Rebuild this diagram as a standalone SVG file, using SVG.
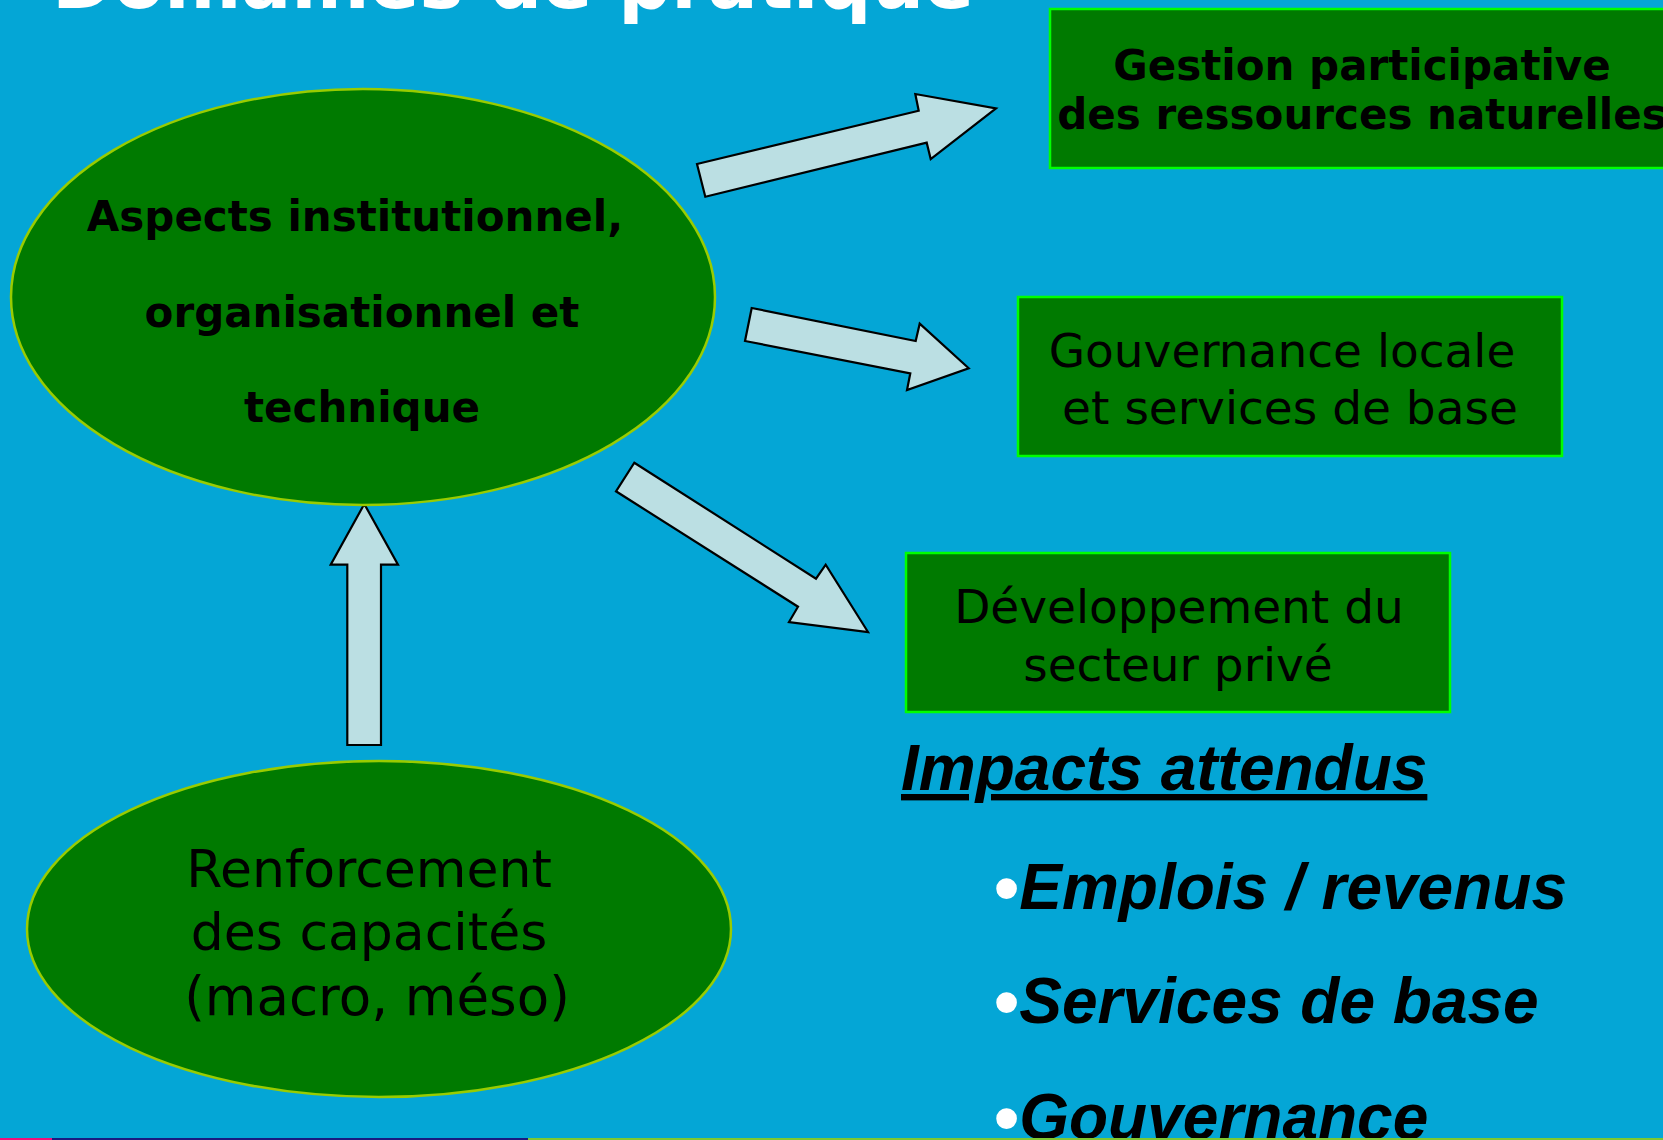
<svg xmlns="http://www.w3.org/2000/svg" width="1663" height="1140" viewBox="0 0 1663 1140">
<defs>
<style>
.ell{fill:#007A00;stroke:#99CC00;stroke-width:2.5}
.box{fill:#007A00;stroke:#00FF00;stroke-width:2.5}
.arr{fill:#BBDFE3;stroke:#000;stroke-width:2.2;stroke-linejoin:miter}
.bold{font-family:"DejaVu Sans",Verdana,sans-serif;font-weight:bold;fill:#000;text-anchor:middle}
.reg{font-family:"DejaVu Sans",Verdana,sans-serif;fill:#000;text-anchor:middle}
.imp{font-family:"Liberation Sans",Arial,sans-serif;font-weight:bold;font-style:italic;font-size:64px;fill:#000}
.dot{fill:#fff;font-style:normal;font-size:72px}
</style>
</defs>
<rect x="0" y="0" width="1663" height="1140" fill="#04A6D6"/>
<text x="52" y="8" font-family="'DejaVu Sans',Verdana,sans-serif" font-weight="bold" font-size="74" fill="#fff">Domaines de pratique</text>

<g id="connectors">
<polygon class="arr" points="697,164 918.7,110.7 915.3,94 996,108.3 930.7,159 926.7,142.7 705.3,196.7"/>
<polygon class="arr" points="751.7,308 915.7,341 919.7,323.7 968.7,368.3 907,390 910.3,373.3 745,341"/>
<polygon class="arr" points="634.3,462.7 816,578.7 825.7,564.7 868,632 789,622 798,606.7 616,491.3"/>
<polygon class="arr" points="364.3,504 398,564.7 381,564.7 381,745 347.3,745 347.3,564.7 330.7,564.7"/>
</g>

<g id="aspects">
<ellipse class="ell" cx="363" cy="297" rx="352" ry="208"/>
<text class="bold" font-size="42" x="355" y="231">Aspects institutionnel,</text>
<text class="bold" font-size="42" x="362" y="327">organisationnel et</text>
<text class="bold" font-size="42" x="362" y="422">technique</text>
</g>

<g id="renforcement">
<ellipse class="ell" cx="379" cy="929" rx="352" ry="168"/>
<text class="reg" font-size="52" x="369" y="887">Renforcement</text>
<text class="reg" font-size="52" x="369" y="950">des capacités</text>
<text class="reg" font-size="53" x="377" y="1015">(macro, méso)</text>
</g>

<g id="gestion">
<rect class="box" x="1050" y="9" width="640" height="159"/>
<text class="bold" font-size="42" x="1362" y="80">Gestion participative</text>
<text class="bold" font-size="42" x="1362" y="129">des ressources naturelles</text>
</g>

<g id="gouvernance">
<rect class="box" x="1018" y="297" width="544" height="159"/>
<text class="reg" font-size="47" x="1282" y="367">Gouvernance locale</text>
<text class="reg" font-size="47" x="1290" y="424">et services de base</text>
</g>

<g id="prive">
<rect class="box" x="906" y="553" width="544" height="159"/>
<text class="reg" font-size="47" x="1179" y="623">Développement du</text>
<text class="reg" font-size="47" x="1178" y="681">secteur privé</text>
</g>

<g id="impacts">
<text class="imp" x="901" y="790" text-decoration="underline">Impacts attendus</text>
<text class="imp" x="994" y="909"><tspan class="dot" dy="3">•</tspan><tspan dy="-3">Emplois / revenus</tspan></text>
<text class="imp" x="994" y="1023"><tspan class="dot" dy="3">•</tspan><tspan dy="-3">Services de base</tspan></text>
<text class="imp" x="994" y="1139"><tspan class="dot" dy="3">•</tspan><tspan dy="-3">Gouvernance</tspan></text>
</g>

<rect x="0" y="1138" width="52" height="2" fill="#F0107A"/>
<rect x="52" y="1138" width="476" height="2" fill="#1A1A80"/>
<rect x="528" y="1138" width="1135" height="2" fill="#7DC832"/>
</svg>
